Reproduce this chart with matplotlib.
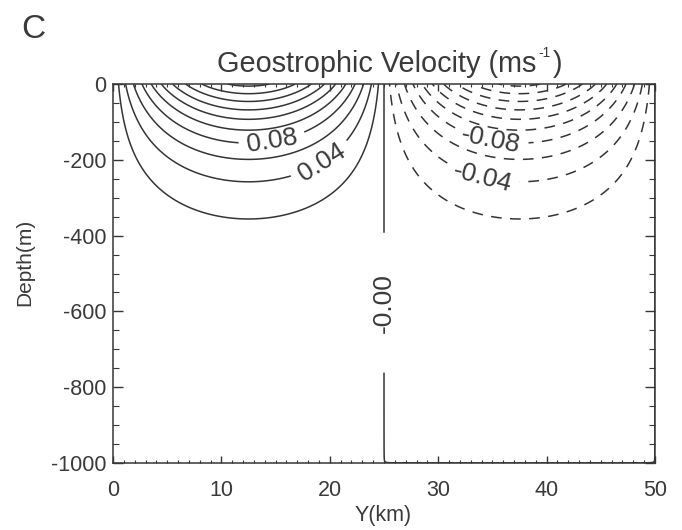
import numpy as np
import matplotlib
matplotlib.use('Agg')
import matplotlib.pyplot as plt
from matplotlib.ticker import MultipleLocator
from matplotlib.transforms import offset_copy

plt.rcParams['font.family'] = ['Liberation Sans', 'DejaVu Sans']
plt.rcParams['axes.unicode_minus'] = False

# ---------------- data ----------------
y_limits = [0, 50]            # km
depth_limits = [-1000, 0]     # m
front_km = 25                 # sign change of the velocity
surface_speed = 0.205         # m/s, jet core at the surface
decay_depth = 165             # m, decay scale of the jet
decay_power = 1.094           # shape of the vertical decay
lateral_shape = 0.85          # flattening of the lateral profile

pos_levels = [0.02, 0.06, 0.10, 0.12, 0.14, 0.16, 0.18, 0.20]
neg_levels = [-0.20, -0.18, -0.16, -0.14, -0.12, -0.10, -0.06, -0.02]
zero_level = [-1e-7]

pos_label_levels = [0.04, 0.08]
pos_label_pos = [(19.4, -215), (14.7, -156)]
neg_label_levels = [-0.08, -0.04]
neg_label_pos = [(34.8, -156), (34.0, -254)]
zero_label_pos = [(25.0, -577)]

x_ticks = [0, 10, 20, 30, 40, 50]
y_ticks = [-1000, -800, -600, -400, -200, 0]

title_main = 'Geostrophic Velocity (ms'
title_sup = '-1'
title_end = ')'

# ---------------- field ----------------
yy = np.linspace(y_limits[0], y_limits[1], 1001)
zz = np.linspace(depth_limits[0], depth_limits[1], 2001)
Y, Z = np.meshgrid(yy, zz)
s = np.sin(np.pi * Y / front_km)
lat = np.sign(s) * np.abs(s) ** lateral_shape
D = -depth_limits[0]
g = np.exp(-(np.abs(Z) / decay_depth) ** decay_power)
g_bot = np.exp(-(D / decay_depth) ** decay_power)
vert = (g - g_bot) / (1 - g_bot)
U = surface_speed * lat * vert

# ---------------- figure ----------------
W, Hpx = 682, 530
fig = plt.figure(figsize=(W / 100, Hpx / 100), dpi=100)
L, R, T, B = 113, 655, 84, 463
ax = fig.add_axes([L / W, 1 - B / Hpx, (R - L) / W, (B - T) / Hpx])

line_col = '#353535'
text_col = '#3a3a3a'
lw = 1.1
dash = [(0, (7, 5.5))]

ax.contour(Y, Z, U, levels=pos_levels, colors=line_col, linewidths=lw, linestyles='solid')
ax.contour(Y, Z, U, levels=neg_levels, colors=line_col, linewidths=lw, linestyles=dash)
cs_pos = ax.contour(Y, Z, U, levels=pos_label_levels, colors=line_col,
                    linewidths=lw, linestyles='solid')
cs_neg = ax.contour(Y, Z, U, levels=neg_label_levels, colors=line_col,
                    linewidths=lw, linestyles=dash)
cs_zero = ax.contour(Y, Z, U, levels=zero_level, colors=line_col,
                     linewidths=lw, linestyles='solid')

lab_kw = dict(fmt='%.2f', fontsize=19, colors=text_col)
ax.clabel(cs_pos, manual=pos_label_pos, inline=True, inline_spacing=8, **lab_kw)
ax.clabel(cs_neg, manual=neg_label_pos, inline=True, inline_spacing=8, **lab_kw)
t3 = ax.clabel(cs_zero, manual=zero_label_pos, inline=True, inline_spacing=40, **lab_kw)
for t in t3:
    t.set_rotation(90)

ax.set_xlim(y_limits)
ax.set_ylim(depth_limits)
ax.set_xticks(x_ticks)
ax.set_yticks(y_ticks)
ax.xaxis.set_minor_locator(MultipleLocator(1))
ax.yaxis.set_minor_locator(MultipleLocator(50))
ax.tick_params(axis='both', which='both', direction='in', top=True, right=True,
               colors=line_col, labelcolor=text_col, labelsize=15.5)
ax.tick_params(axis='x', which='major', length=5, width=1, pad=12)
ax.tick_params(axis='x', which='minor', length=2.5, width=0.8)
ax.tick_params(axis='y', which='major', length=7, width=1, pad=5)
ax.tick_params(axis='y', which='minor', length=4, width=0.8)
for sp in ax.spines.values():
    sp.set_color(line_col)
    sp.set_linewidth(1.1)

# title with a small superscript, laid out piece by piece
renderer = fig.canvas.get_renderer()
base_y = 1 - 72 / Hpx
tm = fig.text(217 / W, base_y, title_main, ha='left', va='baseline',
              fontsize=20.8, color=text_col)
bb = tm.get_window_extent(renderer)
ts = fig.text((bb.x1 + 2) / W, base_y, title_sup, ha='left',
              va='baseline', fontsize=10, color=text_col,
              transform=offset_copy(fig.transFigure, fig=fig, x=0, y=10.5, units='points'))
bb2 = ts.get_window_extent(renderer)
fig.text((bb2.x1 + 2) / W, base_y, title_end, ha='left', va='baseline',
         fontsize=20.8, color=text_col)

fig.text(383 / W, 1 - 515 / Hpx, 'Y(km)', ha='center', va='center',
         fontsize=15.5, color=text_col)
fig.text(25 / W, 1 - 262 / Hpx, 'Depth(m)', ha='center', va='center',
         rotation=90, fontsize=15, color=text_col)
fig.text(33 / W, 1 - 30 / Hpx, 'C', ha='center', va='center',
         fontsize=24, color=text_col)

fig.savefig('out.png', dpi=100, facecolor='white')
